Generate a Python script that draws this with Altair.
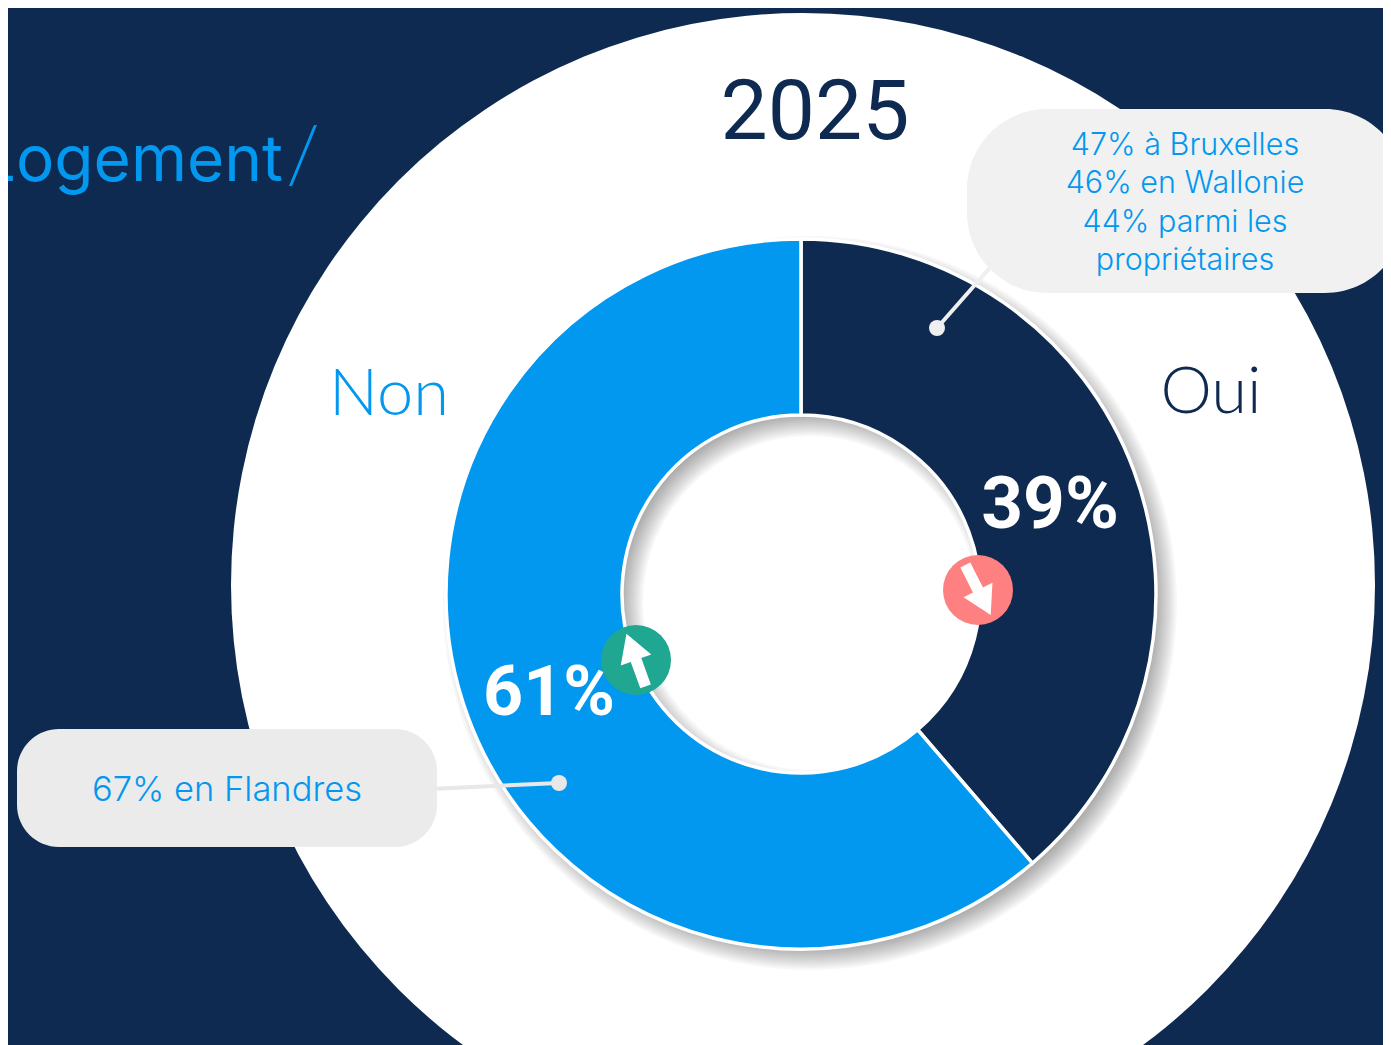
import altair as alt
import pandas as pd

# ---- data ----
responses = ["Oui", "Non"]
shares = [38.7, 61.3]
order_idx = [0, 1]
value_labels = ["39%", "61%"]
year_label = "2025"
section_title = "Logement"
title_slash = "/"
callout_oui = ["47% à Bruxelles", "46% en Wallonie", "44% parmi les", "propriétaires"]
callout_non = ["67% en Flandres"]

# ---- style ----
NAVY = "#0E2A50"
BLUE = "#0398EF"
RED = "#FF8080"
GREEN = "#1FA792"
W, H = 1375, 1037
OFF = 8
def X(v): return alt.value(v - OFF)
def Y(v): return alt.value(v - OFF)

one = pd.DataFrame({"k": [0]})
donut_df = pd.DataFrame({"reponse": responses, "pct": shares, "i": order_idx})
CX, CY = 801, 594
R_OUT, R_IN = 356, 179
TWO_PI = 6.28319

def circle(cx, cy, r, color, opacity=1.0):
    return alt.Chart(one).mark_arc(theta=0, theta2=TWO_PI, radius=r, radius2=0, fill=color,
                                   opacity=opacity).encode(x=X(cx), y=Y(cy))

def ring(cx, cy, r1, r2, color, opacity):
    return alt.Chart(one).mark_arc(theta=0, theta2=TWO_PI, radius=r1, radius2=r2, fill=color,
                                   opacity=opacity).encode(x=X(cx), y=Y(cy))

def txt(s, x, y, size, color, weight=400, align="center", font="Inter"):
    return alt.Chart(one).mark_text(text=s, font=font, fontSize=size, fontWeight=weight, fill=color,
                                    align=align, baseline="alphabetic").encode(x=X(x), y=Y(y))

def box(x1, x2, y1, y2, radius, color):
    return alt.Chart(one).mark_rect(cornerRadius=radius, fill=color, opacity=1).encode(
        x=X(x1), x2=X(x2), y=Y(y1), y2=Y(y2))

def leader(x1, y1, x2, y2, color):
    return alt.Chart(one).mark_rule(stroke=color, strokeWidth=4).encode(
        x=X(x1), x2=X(x2), y=Y(y1), y2=Y(y2))

def badge(cx, cy, color, rotation):
    arrow = "M0,-1 L0.58,0 L0.2,0 L0.2,1 L-0.2,1 L-0.2,0 L-0.58,0 Z"
    disc = alt.Chart(one).mark_point(shape="circle", filled=True, size=4900, fill=color, opacity=1).encode(
        x=X(cx), y=Y(cy))
    head = alt.Chart(one).mark_point(shape=arrow, filled=True, size=3136, angle=rotation, fill="white",
                                     opacity=1).encode(x=X(cx), y=Y(cy))
    return [disc, head]

layers = [circle(803, 585, 572, "white")]

# soft shadow of the ring
for step in range(13):
    spread = -12 + step * 2.0
    layers.append(ring(CX + 9, CY + 9, R_OUT - 1 + spread, R_IN - spread, "#000000", 0.03))

donut = alt.Chart(donut_df).mark_arc(radius=R_OUT - 1, radius2=R_IN, stroke="white", strokeWidth=3.5).encode(
    theta=alt.Theta("pct:Q", stack=True, scale=alt.Scale(domain=[0, 100])),
    order=alt.Order("i:Q"),
    color=alt.Color("reponse:N", legend=None, scale=alt.Scale(domain=responses, range=[NAVY, BLUE])),
    x=X(CX), y=Y(CY),
)
layers.append(donut)

layers += [
    txt(section_title, 283, 181, 64, BLUE, 400, "right"),
    txt(title_slash, 286, 183, 78, BLUE, 300, "left", "Lato"),
    txt(year_label, 815, 139, 84, NAVY, 400, "center", "Roboto"),
    txt(responses[1], 389, 415, 65, BLUE, 300, "center", "Lato"),
    txt(responses[0], 1211, 413, 65, NAVY, 300, "center", "Lato"),
    txt(value_labels[0], 1050, 528, 73, "white", 700, "center", "Roboto"),
    txt(value_labels[1], 549, 715, 70, "white", 700, "center", "Roboto"),
]

layers += [
    leader(937, 328, 995, 262, "#EFEFEF"),
    leader(559, 783, 430, 789, "#E8E8E8"),
    circle(937, 328, 8, "#EFEFEF"),
    circle(559, 783, 8, "#E8E8E8"),
    box(967, 1405, 109, 293, 80, "#F1F1F1"),
    box(17, 437, 729, 847, 42, "#EBEBEB"),
]
for line, base in zip(callout_oui, [155, 193, 232, 270]):
    layers.append(txt(line, 1185, base, 30.5, BLUE, 300))
layers.append(txt(callout_non[0], 227, 801, 34.5, BLUE, 300))

layers += badge(978, 590, RED, 153)
layers += badge(636, 660, GREEN, 340)

chart = alt.layer(*layers).properties(
    width=W, height=H, background=NAVY, padding=0,
    autosize=alt.AutoSizeParams(type="none"),
).configure_view(strokeWidth=0)

chart.save("out.html", embed_options={"renderer": "svg", "actions": False})
